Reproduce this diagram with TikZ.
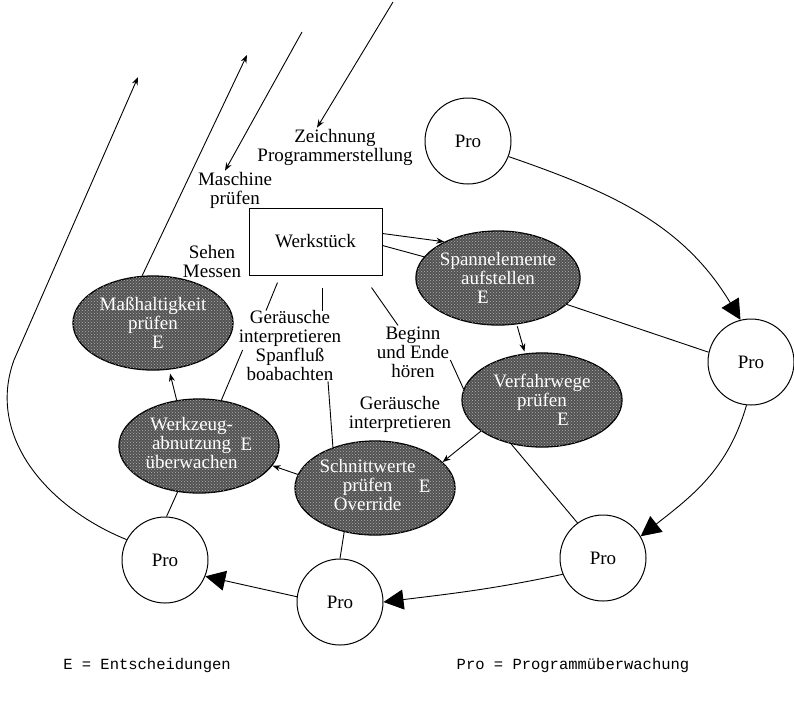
\documentclass[tikz,border=0pt]{standalone}
\usepackage{fontspec}
\setmainfont{Liberation Serif}
\setmonofont{Liberation Mono}
\usepackage{tikz}
\usetikzlibrary{shapes,arrows,positioning,calc,patterns,arrows.meta}

\begin{document}
\begin{tikzpicture}[x=1pt,y=1pt,
    txt/.style={font=\fontsize{19}{19}\selectfont},
    pro/.style={circle, draw, line width=1pt, minimum size=86pt, inner sep=0pt, txt},
    decision/.style={ellipse, draw, line width=1.3pt, fill=black!68, text=white, minimum width=160pt, minimum height=94pt, inner sep=0pt, align=center, txt,
        postaction={pattern=crosshatch dots, pattern color=gray!60}},
    lbl/.style={align=center, inner sep=1pt, txt},
    link/.style={line width=0.9pt},
    small/.style={link, -{Stealth[length=8pt,width=6pt]}},
    big/.style={link, -{Triangle[length=20pt,width=20pt]}}]
    \useasboundingbox (0,0) rectangle (794,-705);

    % Program monitoring
    \node [pro] (tr) at (468,-141) {Pro};
    \node [pro] (r) at (751,-362) {Pro};
    \node [pro] (br) at (603,-558) {Pro};
    \node [pro] (bm) at (340,-602) {Pro};
    \node [pro] (bl) at (165,-560) {Pro};

    % Workpiece
    \node [draw, line width=1pt, minimum width=133pt, minimum height=67pt, txt] (werk) at (315.5,-241.5) {Werkstück};

    % Decisions
    \node [decision] (spann) at (498,-278) {Spannelemente\\aufstellen\\E\hspace*{30pt}};
    \node [decision] (verf) at (542,-400) {Verfahrwege\\prüfen\\\hspace*{42pt}E};
    \node [decision] (schnitt) at (375,-488) {\begin{tabular}{@{}c@{}}Schnittwerte\\prüfen\\Override\end{tabular}\,E};
    \node [decision] (werkz) at (199,-446) {\begin{tabular}{@{}c@{}}Werkzeug-\\abnutzung\\überwachen\end{tabular}\,E};
    \node [decision] (mass) at (153,-323) {Maßhaltigkeit\\prüfen\\\hspace*{10pt}E};

    % Labels
    \node [lbl] (zeich) at (335,-147) {Zeichnung\\Programmerstellung};
    \node [lbl] (masch) at (235,-190) {Maschine\\prüfen};
    \node [lbl] (sehen) at (212,-261) {Sehen\\Messen};
    \node [lbl] (gerA) at (290,-345) {Geräusche\\interpretieren\\Spanfluß\\boabachten};
    \node [lbl] (beginn) at (413,-352) {Beginn\\und Ende\\hören};
    \node [lbl] (gerB) at (400,-414) {Geräusche\\interpretieren};

    % Key
    \node [font=\ttfamily\fontsize{15.5}{18}\selectfont] (keyE) at (147,-665) {E = Entscheidungen};
    \node [font=\ttfamily\fontsize{15.5}{18}\selectfont] (keyPro) at (573,-665) {Pro = Programmüberwachung};

    % Free ends at the top
    \coordinate (outA) at (247,-55);
    \coordinate (inB) at (302,-32);
    \coordinate (inC) at (393,-2);
    \coordinate (outD) at (138,-77);
    \coordinate (bend) at (14,-360);

    % Workpiece links
    \draw [small] ([yshift=8pt]werk.east) -- (spann.146);
    \draw [link] ([yshift=-4pt]werk.east) -- (spann.164);
    \draw [link] ([xshift=-38pt,yshift=-7pt]werk.south) -- ([xshift=-24pt,yshift=-2pt]gerA.north);
    \draw [link] ([xshift=6.5pt,yshift=-12pt]werk.south) -- ([xshift=32pt,yshift=-2pt]gerA.north);
    \draw [link] ([xshift=56pt,yshift=-12pt]werk.south) -- ([xshift=-15pt]beginn.north);
    \draw [link] ([yshift=-8pt]beginn.east) -- (verf.172);
    \draw [link] ([xshift=5pt,yshift=-5pt]gerA.west) -- (werkz.64);
    \draw [link] ([xshift=38pt]gerA.south) -- (schnitt.136);

    % Decision chain
    \draw [small, shorten <=2pt, shorten >=2pt] (spann.-68) -- (verf.110);
    \draw [link] (spann.-21) -- (r.167);
    \draw [small] (verf.207) -- (schnitt.21);
    \draw [link] (verf.-125) -- (br.126);
    \draw [small] (schnitt.170) -- (werkz.-15);
    \draw [link] (schnitt.-125) -- (bm.90);
    \draw [small, shorten >=4pt] (werkz.116) -- (mass.-71);
    \draw [link] (werkz.-115) -- (bl.88);

    % Lines leaving the picture
    \draw [small] (mass.103) -- (outA);
    \draw [small] (inB) -- ([xshift=-10pt]masch.north);
    \draw [small] (inC) -- ([xshift=-18pt]zeich.north);
    \draw [small] (bl.152) to[out=158,in=-110] (bend) -- (outD);

    % Monitoring cycle
    \draw [big] (tr.-21) to[out=-19,in=121] (r.104);
    \draw [big] (r.-96) to[out=-106,in=38] (br.30);
    \draw [big] (br.202) to[out=192,in=7] (bm.0);
    \draw [big] (bm.173) -- (bl.-22);
\end{tikzpicture}
\end{document}
